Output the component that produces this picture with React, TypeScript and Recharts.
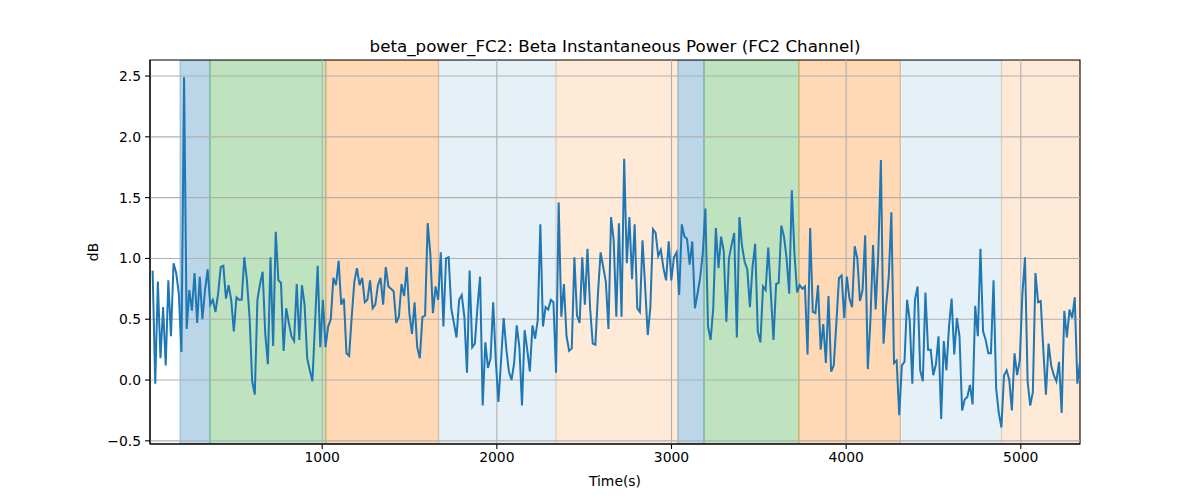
import React from 'react';
import { LineChart, Line, XAxis, YAxis, ReferenceArea, ReferenceLine } from 'recharts';

// Sampling grid of the recording (seconds)
const AXIS_START = 14;
const SAMPLE_START = 29;
const SAMPLE_STEP = 15;

// Beta instantaneous power (dB), in consecutive chunks
const powerPart1 = [
  0.90, -0.03, 0.81, 0.18, 0.60, 0.12, 0.82, 0.36, 0.96, 0.88,
  0.71, 0.23, 2.49, 0.42, 0.74, 0.57, 0.88, 0.47, 0.85, 0.50,
  0.74, 0.91, 0.62, 0.66, 0.56, 0.71, 0.93, 0.94, 0.67, 0.78,
  0.66, 0.40, 0.68, 0.66, 0.66, 1.01, 0.82, 0.52, -0.01, -0.12,
  0.66, 0.79, 0.89, 0.38, 0.13, 1.01, 0.28, 1.22, 0.82, 0.80,
  0.24, 0.59, 0.47, 0.36, 0.32, 0.79, 0.33, 0.78, 0.62,
];
const powerPart2 = [
  0.18, 0.08, -0.01, 0.47, 0.94, 0.27, 0.66, 0.27, 0.44, 0.50,
  0.84, 0.78, 0.98, 0.62, 0.67, 0.22, 0.20, 0.52, 0.81, 0.92,
  0.78, 0.84, 0.64, 0.66, 0.82, 0.59, 0.62, 0.78, 0.84, 0.62,
  0.93, 0.77, 0.75, 0.73, 0.47, 0.52, 0.79, 0.69, 0.93, 0.55,
  0.38, 0.64, 0.27, 0.18, 0.52, 0.53, 1.29, 1.04, 0.55, 0.77,
  0.66, 1.05, 0.44, 1.00, 1.01, 0.59, 0.47, 0.35, 0.66,
];
const powerPart3 = [
  0.70, 0.52, 0.06, 0.90, 0.27, 0.30, 0.60, 0.85, -0.21, 0.31,
  0.10, 0.18, 0.64, 0.16, -0.18, 0.16, 0.51, 0.26, 0.07, 0.00,
  0.14, 0.45, 0.27, -0.21, 0.41, 0.25, 0.07, 0.45, 0.34, 0.49,
  1.28, 0.44, 0.60, 0.58, 0.66, 0.64, 0.06, 1.46, 0.52, 0.79,
  0.36, 0.24, 0.26, 1.01, 0.53, 0.47, 1.01, 0.62, 1.08, 0.59,
  0.30, 0.29, 0.71, 1.05, 0.93, 0.81, 0.42, 1.34, 1.15,
];
const powerPart4 = [
  0.52, 1.29, 0.52, 1.82, 0.96, 1.34, 0.83, 1.28, 0.59, 0.56,
  1.15, 0.77, 0.37, 0.60, 1.24, 1.21, 1.02, 1.07, 0.92, 0.82,
  1.14, 0.82, 1.01, 1.05, 0.70, 1.28, 1.18, 1.16, 0.95, 1.14,
  0.59, 0.71, 0.84, 1.04, 1.41, 0.44, 0.33, 0.59, 1.25, 0.92,
  1.18, 1.06, 0.48, 1.00, 1.11, 1.21, 0.35, 1.34, 1.10, 0.97,
  0.91, 0.60, 0.93, 1.12, 0.40, 0.31, 0.77, 0.74, 1.09,
];
const powerPart5 = [
  0.71, 0.33, 0.79, 0.80, 1.27, 1.18, 1.00, 0.71, 1.56, 1.04,
  0.72, 0.78, 0.75, 0.77, 0.21, 1.25, 0.56, 0.55, 0.78, 0.25,
  0.46, 0.14, 0.69, 0.07, 0.12, 0.47, 0.84, 0.86, 0.51, 0.85,
  0.67, 0.60, 1.10, 1.00, 0.65, 0.74, 1.19, 0.09, 0.49, 1.11,
  0.58, 1.04, 1.81, 0.30, 0.61, 0.85, 1.38, 0.14, 0.16, -0.29,
  0.12, 0.15, 0.66, 0.49, -0.03, 0.66, 0.77, 0.08, -0.01,
];
const powerPart6 = [
  0.72, 0.25, 0.25, 0.04, 0.13, 0.36, -0.32, 0.32, 0.08, 0.44,
  0.67, 0.21, 0.51, 0.36, -0.25, -0.16, -0.14, -0.04, -0.20, 0.61,
  0.36, 1.08, 0.40, 0.33, 0.22, 0.22, 0.82, -0.07, -0.27, -0.39,
  0.04, 0.08, 0.00, -0.25, 0.22, 0.04, 0.16, 0.70, 1.01, -0.01,
  -0.21, -0.10, 0.88, 0.64, 0.65, 0.25, -0.12, 0.30, 0.12, 0.04,
  -0.01, 0.15, -0.27, 0.57, 0.35, 0.58, 0.51, 0.68, -0.03, 0.15,
];

const power = [...powerPart1, ...powerPart2, ...powerPart3, ...powerPart4, ...powerPart5, ...powerPart6];

// Shaded phases (seconds)
const bandStarts = [186, 357, 1021, 1666, 2339, 3037, 3186, 3730, 4310, 4890];
const bandEnds = [357, 1021, 1666, 2339, 3037, 3186, 3730, 4310, 4890, 5339];
const bandKinds = ['blue', 'green', 'orange', 'lightblue', 'lightorange', 'blue', 'green', 'orange', 'lightblue', 'lightorange'];

const xTicks = [1000, 2000, 3000, 4000, 5000];
const yTicks = [-0.5, 0, 0.5, 1, 1.5, 2, 2.5];

const kindStyle: Record<string, { color: string; alpha: number }> = {
  blue: { color: '#1f77b4', alpha: 0.3 },
  green: { color: '#2ca02c', alpha: 0.3 },
  orange: { color: '#ff7f0e', alpha: 0.3 },
  lightblue: { color: '#1f77b4', alpha: 0.11 },
  lightorange: { color: '#ff7f0e', alpha: 0.16 },
};

const data = power.map((v, i) => ({ t: SAMPLE_START + i * SAMPLE_STEP, v }));
const X_MIN = AXIS_START;
const X_MAX = SAMPLE_START + (power.length - 1) * SAMPLE_STEP;
const Y_MIN = -0.526;
const Y_MAX = 2.632;

const FONT = 'DejaVu Sans, sans-serif';
const fmtY = (v: number) => v.toFixed(1).replace('-', '\u2212');

export default function App() {
  return (
    <div style={{ position: 'absolute', left: 0, top: 0, width: 1200, height: 500, background: '#fff' }}>
      <LineChart
        width={1200}
        height={500}
        data={data}
        margin={{ top: 60, right: 120, bottom: 26, left: 90 }}
      >
        <XAxis
          dataKey="t"
          type="number"
          domain={[X_MIN, X_MAX]}
          ticks={xTicks}
          allowDataOverflow
          height={30}
          tickSize={5}
          tickMargin={3}
          axisLine={{ stroke: '#000', strokeWidth: 1.1 }}
          tickLine={{ stroke: '#000', strokeWidth: 1.1 }}
          tick={{ fill: '#000', fontSize: 13.9, fontFamily: FONT }}
        />
        <YAxis
          type="number"
          domain={[Y_MIN, Y_MAX]}
          ticks={yTicks}
          allowDataOverflow
          width={60}
          tickSize={5}
          tickMargin={4}
          tickFormatter={fmtY}
          axisLine={{ stroke: '#000', strokeWidth: 1.1 }}
          tickLine={{ stroke: '#000', strokeWidth: 1.1 }}
          tick={{ fill: '#000', fontSize: 13.9, fontFamily: FONT }}
        />
        {bandStarts.map((s, i) => {
          const st = kindStyle[bandKinds[i]];
          return (
            <ReferenceArea
              key={'band' + i}
              x1={s}
              x2={bandEnds[i]}
              y1={Y_MIN}
              y2={Y_MAX}
              ifOverflow="hidden"
              fill={st.color}
              fillOpacity={st.alpha}
              stroke={st.color}
              strokeOpacity={st.alpha}
              strokeWidth={1.3}
            />
          );
        })}
        {xTicks.map((t) => (
          <ReferenceLine key={'gx' + t} x={t} stroke="#b0b0b0" strokeWidth={1.1} />
        ))}
        {yTicks.map((t) => (
          <ReferenceLine key={'gy' + t} y={t} stroke="#b0b0b0" strokeWidth={1.1} />
        ))}
        <Line
          type="linear"
          dataKey="v"
          stroke="#1f77b4"
          strokeWidth={2}
          dot={false}
          activeDot={false}
          isAnimationActive={false}
        />
        <ReferenceArea
          x1={X_MIN}
          x2={X_MAX}
          y1={Y_MIN}
          y2={Y_MAX}
          fill="none"
          stroke="#000"
          strokeWidth={1.1}
        />
      </LineChart>
      <svg
        width={1200}
        height={500}
        style={{ position: 'absolute', left: 0, top: 0, pointerEvents: 'none' }}
      >
        <text x={615} y={52} textAnchor="middle" fontFamily={FONT} fontSize={16.7} fill="#000">
          beta_power_FC2: Beta Instantaneous Power (FC2 Channel)
        </text>
        <text x={615} y={486} textAnchor="middle" fontFamily={FONT} fontSize={13.9} fill="#000">
          Time(s)
        </text>
        <text
          x={93}
          y={252}
          textAnchor="middle"
          dominantBaseline="central"
          transform="rotate(-90, 93, 252)"
          fontFamily={FONT}
          fontSize={13.9}
          fill="#000"
        >
          dB
        </text>
      </svg>
    </div>
  );
}
